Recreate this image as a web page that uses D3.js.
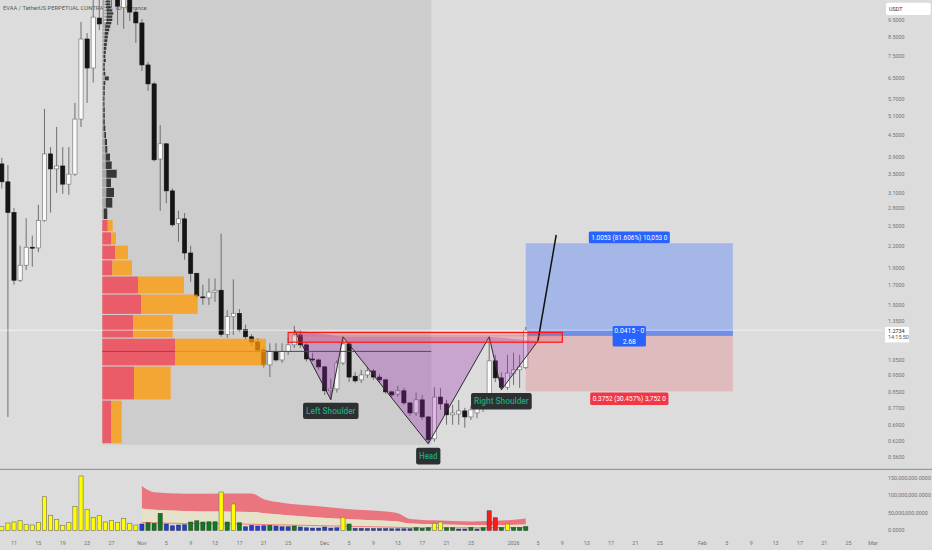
<!DOCTYPE html>
<html><head><meta charset="utf-8">
<script src="https://cdn.jsdelivr.net/npm/d3@7/dist/d3.min.js"></script>
<style>html,body{margin:0;padding:0;background:#dcdcdc;overflow:hidden}svg{display:block;font-family:Roboto,"Noto Sans",sans-serif}</style>
</head><body><svg id="c" width="932" height="550"></svg>
<script>
// ---------- DATA ----------
const title = "EVAA / TetherUS PERPETUAL CONTRACT · 1D · Binance";
const firstCandle = "2025-10-09";
const opens  = [3.74,3.33,2.73,1.76,1.94,2.18,2.17,2.59,3.99,3.62,3.69,3.28,3.50,5.00,8.40,6.96,9.62,9.26,11.2,10.9,10.3,11.0,10.0,
 9.32,7.10,6.28,3.86,4.26,3.14,2.54,2.62,2.10,1.84,1.58,1.57,1.63,1.65,1.24,1.39,1.42,1.28,1.22,1.18,1.12,1.017,1.11,1.05,1.11,1.158,1.235,1.158,1.057,1.05,
 1.004,0.86,0.87,1.03,1.165,0.945,0.923,0.953,0.978,0.94,0.923,0.854,0.842,0.86,0.795,0.745,0.811,0.726,0.63,0.826,0.79,0.736,0.74,0.755,0.726,0.745,0.77,0.811,1.044,0.935,0.88,
 0.96,0.985,1.0];
const highs  = [3.89,3.71,2.81,2.20,2.63,2.35,2.87,5.34,4.17,4.75,4.17,4.17,5.55,9.38,8.73,11.3,10.9,11.8,12.5,12.0,11.6,11.5,10.14,
 9.56,7.24,6.35,4.81,4.28,3.19,2.76,2.72,2.20,1.85,1.71,1.78,1.78,2.38,1.45,1.77,1.46,1.32,1.24,1.21,1.14,1.17,1.17,1.17,1.21,1.31,1.276,1.17,1.10,1.06,
 1.01,0.93,1.05,1.22,1.18,0.97,0.985,1.004,0.99,0.96,0.93,0.86,0.887,0.876,0.80,0.85,0.837,0.73,0.88,0.876,0.811,0.785,0.81,0.77,0.78,0.82,0.837,1.21,1.085,0.97,1.085,
 1.10,1.085,1.30];
const lows   = [3.19,0.726,1.71,1.74,1.88,1.92,2.11,2.57,2.73,3.10,3.08,3.06,3.46,4.75,5.55,6.34,8.90,9.00,10.3,9.20,8.97,9.44,8.19,
 6.83,6.00,3.80,2.76,2.90,2.49,2.26,2.01,1.74,1.57,1.50,1.50,1.53,1.22,1.21,1.235,1.26,1.20,1.15,1.10,1.00,0.94,1.04,1.03,1.085,1.135,1.135,1.04,1.04,0.985,
 0.837,0.81,0.85,1.017,0.91,0.905,0.905,0.935,0.923,0.905,0.843,0.822,0.827,0.785,0.731,0.731,0.712,0.61,0.618,0.76,0.69,0.69,0.69,0.677,0.712,0.72,0.75,0.806,0.91,0.865,0.865,
 0.893,0.876,0.99];
const closes = [3.33,2.73,1.76,1.94,2.18,2.17,2.59,3.99,3.62,3.69,3.28,3.50,5.00,8.40,6.96,9.68,9.26,11.2,11.0,10.4,11.0,10.0,9.32,
 7.10,6.28,3.84,4.26,3.14,2.52,2.62,2.10,1.84,1.59,1.57,1.63,1.65,1.24,1.39,1.42,1.276,1.22,1.18,1.12,1.02,1.11,1.05,1.11,1.158,1.235,1.158,1.057,1.05,1.004,
 0.86,0.87,1.03,1.165,0.94,0.917,0.953,0.978,0.94,0.923,0.854,0.837,0.86,0.795,0.745,0.811,0.726,0.626,0.826,0.79,0.736,0.745,0.755,0.726,0.76,0.775,0.811,1.044,0.935,0.88,0.965,
 0.985,1.004,1.2734];
// volume in millions, and bar colour class
const volumes = [10.9,21.4,24.3,28,17.7,15.7,23.4,96.6,43.4,32,14.9,23.4,69,155.7,60.6,37.7,42.3,24.3,29.1,23.4,34.9,20.6,15.7,
 18.6,22.3,20.6,49,18.6,13.7,15.7,16.6,24.3,28,24.3,25.1,25.1,110,24.3,75.7,22.3,10.9,14.9,12.9,13.7,14.9,12.9,10.9,10.9,12.9,10,8,7.1,7.1,
 10,7.1,8,37.7,18.6,6.3,6.3,5.7,5.7,5.7,5.7,5.1,5.1,5.1,5.1,8,6.3,8,20.6,24.3,8,8,4.3,4.3,8.6,4.3,8,56.6,36.6,8.6,18.6,
 8.6,8.6,11.4];
const volClass = ("yyyyyyyyyyyyyyyyyyyyyyy"+"bgggbbbbgggggygygbbbbgbbbgbbbb"+"bbbygbbbbbbbbbbgggyyggbbgbgrrgy"+"ggg").split("");
// volume band (upper / middle / lower), millions
const bandDates = ["2025-11-01","2025-11-03","2025-11-08","2025-11-14","2025-11-19","2025-11-21","2025-11-24","2025-11-30","2025-12-05","2025-12-11","2025-12-13","2025-12-15","2025-12-19","2025-12-25","2025-12-31","2026-01-03"];
const bandUpper = [127,109,105,106,106,89,79,69,61,54,49,33,29,26,29,34];
const bandMid   = [63,59,56,54,53,49,45,37,32,28,26,20,18,16,16,17];
const bandLower = [23,22,20,19,18,17,16,14,12,10,9,8,8,8,8,8];
// volume profile (fixed range), value area buckets of 0.2
const vpRangeStart = "2025-10-25T12:00Z", vpRangeEnd = "2025-12-18T12:00Z", vpRangeLow = 0.606, vpRangeHigh = 12;
const vaLow  = [0.61,0.81,1.01,1.21,1.41,1.61,1.81,2.01,2.21,2.41];
const vaDown = [8.7,31.7,72.7,30.7,38.7,35.7,10,12.7,8.7,5.4];
const vaUp   = [10.7,36.7,91,39.7,56.7,46,19.7,13,5,5];
const pocPrice = 1.11;
const grayLow = [2.61,2.81,3.01,3.21,3.41,3.61,3.81,4.01,4.21,4.41,4.61,4.81,5.01,5.21,5.41,5.61,5.81,6.01,6.21,6.41,6.61,6.81,7.01,7.21,7.41,7.61,7.81,8.01,8.21,8.41,8.61,8.81,9.01,9.21,9.41,9.61,9.81,10.01,10.21,10.41,10.61];
const grayUp   = [1.5,3.5,4,4,4,3.5,3.4,3,2.5,2,1.2,1,1,1,1,1,1,1,1.2,2.5,1.2,1,1,1.4,1.2,1.4,1.6,1.8,2,2.2,2.4,2.8,3.2,3.6,4,4,4.4,4,3.6,3.2,3.2];
const grayDown = [3.5,6.5,7.7,4.7,10.4,5.9,4.3,2,2.2,1.7,1.8,1.5,1.5,1.5,1.2,1.2,1.5,1.5,1.8,4,1.8,1.5,1.5,2.1,1.8,2.1,2.4,2.7,3,3.3,3.6,4.2,4.8,5.4,6,6,6.6,6,5.4,4.8,4.8];
// head & shoulders pattern points
const hsDates  = ["2025-11-26","2025-12-02","2025-12-04","2025-12-18","2025-12-28","2025-12-30","2026-01-05"];
const hsPrices = [1.276,0.812,1.22,0.61,1.22,0.865,1.188];
const projDates = ["2026-01-05","2026-01-08"], projPrices = [1.188,2.36];
const zoneStart = "2025-11-25", zoneEnd = "2026-01-09", zoneTop = 1.255, zoneBottom = 1.178;
// long position tool
const posStart = "2026-01-03", posEnd = "2026-02-06";
const entry = 1.2319, target = 2.2372, stop = 0.8567, lastPrice = 1.2734;
const targetText = "1.0053 (81.606%) 10,053 0", midText1 = "0.0415 - 0", midText2 = "2.68", stopText = "0.3752 (30.457%) 3,752 0";
const priceTicks = [9.5,8.5,7.5,6.5,5.7,5.1,4.5,3.9,3.5,3.1,2.8,2.5,2.2,1.9,1.7,1.5,1.35,1.05,0.95,0.85,0.77,0.69,0.62,0.56];
const volTicks = [150,100,50,0];
const volTickLabels = ["150,000,000.0000","100,000,000.0000","50,000,000.0000","0.0000"];
const dateTicks = ["2025-10-11","2025-10-15","2025-10-19","2025-10-23","2025-10-27","2025-11-01","2025-11-05","2025-11-09","2025-11-13","2025-11-17","2025-11-21","2025-11-25","2025-12-01","2025-12-05","2025-12-09","2025-12-13","2025-12-17","2025-12-21","2025-12-25","2026-01-01","2026-01-05","2026-01-09","2026-01-13","2026-01-17","2026-01-21","2026-01-25","2026-02-01","2026-02-05","2026-02-09","2026-02-13","2026-02-17","2026-02-21","2026-02-25","2026-03-01"];
const dateLabels = ["11","15","19","23","27","Nov","5","9","13","17","21","25","Dec","5","9","13","17","21","25","2026","5","9","13","17","21","25","Feb","5","9","13","17","21","25","Mar"];

// ---------- SCALES ----------
const D = s => new Date(s.length === 10 ? s + "T00:00Z" : s);
const x = d3.scaleUtc().domain([D("2025-10-11"), D("2026-03-01")]).range([14, 873]);
const y = d3.scaleLog().domain([9.5, 0.56]).range([20, 457]);
const vy = d3.scaleLinear().domain([0, 150]).range([530.5, 478]);
const px = d3.scaleLinear().domain([0, 163.7]).range([102.3, 266]);
const dates = opens.map((_, i) => d3.utcDay.offset(D(firstCandle), i));

const svg = d3.select("#c");
svg.append("rect").attr("width", 932).attr("height", 550).attr("fill", "#dcdcdc");
svg.append("clipPath").attr("id", "pane").append("rect").attr("x", 0).attr("y", 0).attr("width", 882).attr("height", 468.5);
svg.append("clipPath").attr("id", "vpane").append("rect").attr("x", 0).attr("y", 470).attr("width", 882).attr("height", 65);
const main = svg.append("g").attr("clip-path", "url(#pane)");

// range background
main.append("rect").attr("x", x(D(vpRangeStart))).attr("y", y(vpRangeHigh))
  .attr("width", x(D(vpRangeEnd)) - x(D(vpRangeStart))).attr("height", y(vpRangeLow) - y(vpRangeHigh)).attr("fill", "#cdcdcd");

main.append("text").attr("x", 3).attr("y", 10).attr("font-size", 5.8).attr("fill", "#585858").text(title);

// long position boxes
const pX0 = x(D(posStart)), pX1 = x(D(posEnd));
main.append("rect").attr("x", pX0).attr("y", y(target)).attr("width", pX1 - pX0).attr("height", y(entry) - y(target)).attr("fill", "rgba(41,98,255,0.3)");
main.append("rect").attr("x", pX0).attr("y", y(entry)).attr("width", pX1 - pX0).attr("height", y(stop) - y(entry)).attr("fill", "rgba(242,54,69,0.2)");
main.append("rect").attr("x", pX0).attr("y", y(lastPrice)).attr("width", pX1 - pX0).attr("height", y(entry) - y(lastPrice)).attr("fill", "rgba(41,98,255,0.45)");
main.append("line").attr("x1", pX0).attr("x2", pX1).attr("y1", y(entry)).attr("y2", y(entry)).attr("stroke", "#8b8b95").attr("stroke-width", 1);

// candles
const cg = main.append("g");
dates.forEach((d, i) => {
  const cx = x(d), up = closes[i] >= opens[i];
  cg.append("line").attr("x1", cx).attr("x2", cx).attr("y1", y(highs[i])).attr("y2", y(lows[i])).attr("stroke", "#6f6f6f").attr("stroke-width", 1);
  const t = y(Math.max(opens[i], closes[i])), b = y(Math.min(opens[i], closes[i]));
  cg.append("rect").attr("x", cx - 2.1).attr("y", t).attr("width", 4.2).attr("height", Math.max(1, b - t))
    .attr("fill", up ? "#fafafa" : "#151515").attr("stroke", up ? "#6a6a6a" : "#151515").attr("stroke-width", 0.6);
});

// gray profile (outside value area)
const vpg = main.append("g");
grayLow.forEach((lo, k) => {
  const y0 = y(lo + 0.2) + 0.4, y1 = y(lo) - 0.4;
  vpg.append("rect").attr("x", px(0)).attr("y", y0).attr("width", px(grayUp[k]) - px(0)).attr("height", Math.max(0.6, y1 - y0)).attr("fill", "#a8a8a8");
  vpg.append("rect").attr("x", px(grayUp[k])).attr("y", y0).attr("width", px(grayDown[k]) - px(0)).attr("height", Math.max(0.6, y1 - y0)).attr("fill", "#383838");
});
// value area profile
vaLow.forEach((lo, k) => {
  const y0 = y(lo + 0.2) + 0.6, y1 = y(lo) - 0.6;
  vpg.append("rect").attr("x", px(0)).attr("y", y0).attr("width", px(vaDown[k]) - px(0)).attr("height", y1 - y0).attr("fill", "rgba(242,54,69,0.75)");
  vpg.append("rect").attr("x", px(vaDown[k])).attr("y", y0).attr("width", px(vaUp[k]) - px(0)).attr("height", y1 - y0).attr("fill", "rgba(255,152,0,0.75)");
});
// POC line
const pocK = vaLow.findIndex(l => pocPrice >= l && pocPrice < l + 0.2);
const redEnd = px(vaDown[pocK]), orEnd = px(vaDown[pocK] + vaUp[pocK]);
main.append("line").attr("x1", px(0)).attr("x2", redEnd).attr("y1", y(pocPrice)).attr("y2", y(pocPrice)).attr("stroke", "#c42e48").attr("stroke-width", 1);
main.append("line").attr("x1", redEnd).attr("x2", orEnd).attr("y1", y(pocPrice)).attr("y2", y(pocPrice)).attr("stroke", "#df8e2a").attr("stroke-width", 1);
main.append("line").attr("x1", orEnd).attr("x2", x(D(vpRangeEnd))).attr("y1", y(pocPrice)).attr("y2", y(pocPrice)).attr("stroke", "#4a4a4a").attr("stroke-width", 1);

// current price line
main.append("line").attr("x1", 0).attr("x2", 882).attr("y1", y(lastPrice)).attr("y2", y(lastPrice)).attr("stroke", "rgba(255,255,255,0.6)").attr("stroke-width", 1);

// head & shoulders
const hsPts = hsDates.map((d, i) => [x(D(d)), y(hsPrices[i])]);
main.append("path").attr("d", "M" + hsPts.map(p => p.join(",")).join("L") + "L" + [hsPts[4], hsPts[2]].map(p => p.join(",")).join("L") + "Z")
  .attr("fill", "rgba(156,39,176,0.3)").attr("stroke", "none");
main.append("path").attr("d", d3.line()(hsPts)).attr("fill", "none").attr("stroke", "#2b2b2b").attr("stroke-width", 1);
main.append("path").attr("d", d3.line()(projDates.map((d, i) => [x(D(d)), y(projPrices[i])]))).attr("fill", "none").attr("stroke", "#111").attr("stroke-width", 1.5);

// resistance zone
const zx0 = x(D(zoneStart)), zx1 = x(D(zoneEnd));
main.append("rect").attr("x", zx0).attr("y", y(zoneTop)).attr("width", zx1 - zx0).attr("height", y(zoneBottom) - y(zoneTop))
  .attr("fill", "rgba(242,54,69,0.22)").attr("stroke", "#ff1515").attr("stroke-width", 1.2);
main.append("line").attr("x1", zx0 + 2).attr("x2", zx1 - 2).attr("y1", (y(zoneTop) + y(zoneBottom)) / 2 - 1.5).attr("y2", (y(zoneTop) + y(zoneBottom)) / 2 - 1.5)
  .attr("stroke", "#c96a7a").attr("stroke-width", 0.8).attr("stroke-dasharray", "1,1");

// pattern labels
function tag(cx, top, w, h, txt) {
  main.append("rect").attr("x", cx - w / 2).attr("y", top).attr("width", w).attr("height", h).attr("rx", 2).attr("fill", "#2c3033");
  main.append("text").attr("x", cx).attr("y", top + h / 2 + 3).attr("text-anchor", "middle").attr("font-size", 8.4).attr("font-weight", 500).attr("fill", "#1fa67a")
    .attr("textLength", w - 6).attr("lengthAdjust", "spacingAndGlyphs").text(txt);
}
tag(hsPts[1][0], hsPts[1][1] + 3, 55.5, 16.3, "Left Shoulder");
tag(hsPts[3][0], hsPts[3][1] + 4, 24.3, 16.6, "Head");
tag(hsPts[5][0], hsPts[5][1] + 3, 60.7, 16.7, "Right Shoulder");

// position labels
const pc = (pX0 + pX1) / 2;
function plabel(cx, top, w, h, fill, lines, fit) {
  main.append("rect").attr("x", cx - w / 2).attr("y", top).attr("width", w).attr("height", h).attr("rx", 1.5).attr("fill", fill);
  lines.forEach((t, i) => {
    const tx = main.append("text").attr("x", cx).attr("y", top + (i + 1) * h / lines.length - h / lines.length / 2 + 2.4)
      .attr("text-anchor", "middle").attr("font-size", 6.8).attr("fill", "#fff").text(t);
    if (fit) tx.attr("textLength", w - 5).attr("lengthAdjust", "spacingAndGlyphs");
  });
}
plabel(pc, y(target) - 11.6, 81, 11.6, "#2962ff", [targetText], true);
plabel(pc, y(entry) - 9.4, 33.3, 20.7, "#2962ff", [midText1, midText2], false);
plabel(pc, y(stop) + 1.2, 78.3, 12.3, "#f23645", [stopText], true);

// ---------- VOLUME PANE ----------
svg.append("line").attr("x1", 0).attr("x2", 932).attr("y1", 469.3).attr("y2", 469.3).attr("stroke", "#8a8a8a").attr("stroke-width", 1);
const vg = svg.append("g").attr("clip-path", "url(#vpane)");
const bd = bandDates.map(D);
vg.append("path").attr("d", d3.area().x((d, i) => x(bd[i])).y0((d, i) => vy(bandMid[i])).y1((d, i) => vy(bandUpper[i])).curve(d3.curveMonotoneX)(bd))
  .attr("fill", "rgba(242,54,69,0.62)");
vg.append("path").attr("d", d3.area().x((d, i) => x(bd[i])).y0((d, i) => vy(bandLower[i])).y1((d, i) => vy(bandMid[i])).curve(d3.curveMonotoneX)(bd))
  .attr("fill", "#e6e2c9");
vg.append("path").attr("d", d3.line().x((d, i) => x(bd[i])).y((d, i) => vy(bandLower[i])).curve(d3.curveMonotoneX)(bd))
  .attr("fill", "none").attr("stroke", "rgba(242,54,69,0.7)").attr("stroke-width", 0.8);
const vcol = { y: "#ffff00", g: "#0d7a1c", b: "#1f3ddb", r: "#f21d1d" };
dates.forEach((d, i) => {
  vg.append("rect").attr("x", x(d) - 2.1).attr("y", vy(volumes[i])).attr("width", 4.2).attr("height", vy(0) - vy(volumes[i]))
    .attr("fill", vcol[volClass[i]]).attr("stroke", volClass[i] === "y" ? "#7d7d6a" : "rgba(40,40,40,0.6)").attr("stroke-width", 0.7);
});

// ---------- AXES ----------
const ax = svg.append("g").attr("font-size", 5.4).attr("fill", "#737373");
priceTicks.forEach(p => ax.append("text").attr("x", 888).attr("y", y(p) + 1.9).text(p.toFixed(4)));
volTicks.forEach((v, i) => ax.append("text").attr("x", 888).attr("y", vy(v) + 1.9).text(volTickLabels[i]));
dateTicks.forEach((d, i) => ax.append("text").attr("x", x(D(d))).attr("y", 544.6).attr("text-anchor", "middle").text(dateLabels[i]));

svg.append("rect").attr("x", 886).attr("y", 2.7).attr("width", 44.7).attr("height", 12.3).attr("rx", 2).attr("fill", "#fff");
svg.append("text").attr("x", 889).attr("y", 11).attr("font-size", 5.4).attr("fill", "#333").text("USDT");
const ly = y(lastPrice);
svg.append("rect").attr("x", 885).attr("y", ly - 3.3).attr("width", 24).attr("height", 15.6).attr("fill", "#fff");
svg.append("text").attr("x", 888).attr("y", ly + 2.4).attr("font-size", 5.4).attr("fill", "#222").text(lastPrice.toFixed(4));
svg.append("text").attr("x", 888).attr("y", ly + 9.2).attr("font-size", 5.4).attr("fill", "#555").text("14:15:50");
</script></body></html>
